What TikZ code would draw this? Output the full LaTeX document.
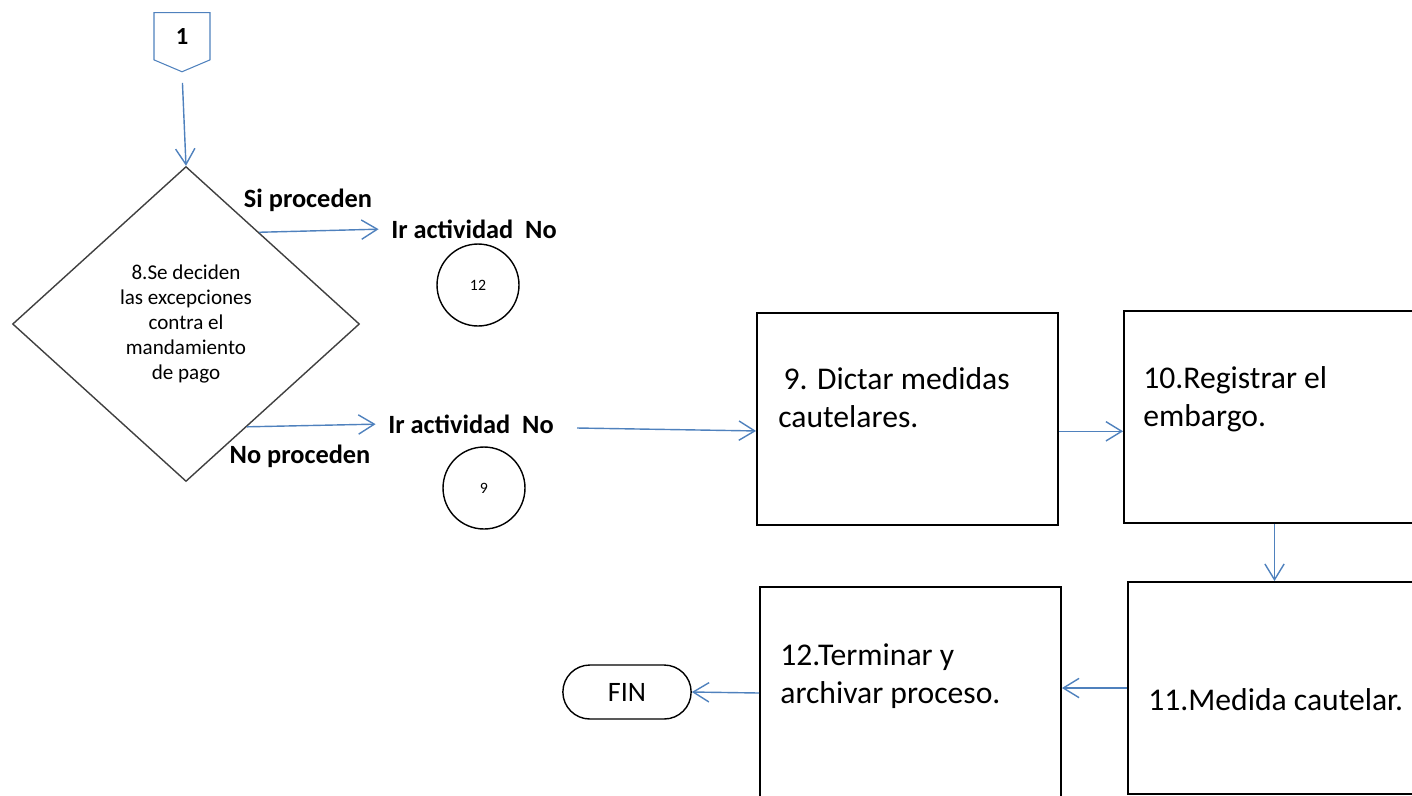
\documentclass[tikz,border=0pt]{standalone}
\usepackage{fontspec}
\setmainfont{Carlito}
\usetikzlibrary{shapes,arrows.meta,calc,positioning}
\definecolor{lineblue}{RGB}{79,129,189}

\begin{document}
\begin{tikzpicture}[x=0.02cm,y=-0.02cm,
	box/.style={rectangle,draw,line width=1.1pt,minimum width=6.02cm,minimum height=4.24cm},
	boxtext/.style={anchor=north west,align=left,inner sep=0pt,font=\fontsize{18}{22}\selectfont},
	arr/.style={draw=lineblue,line width=0.8pt,-{Straight Barb[length=9pt,width=11pt]}},
	goto/.style={circle,draw,line width=0.8pt,minimum size=1.64cm,inner sep=0pt,font=\fontsize{9}{10}\selectfont},
	lbl/.style={font=\bfseries\fontsize{15}{18}\selectfont,inner sep=3pt}]
	\path[use as bounding box,clip] (0,0) rectangle (1412,795);

	\node[signal,signal to=south,signal pointer angle=134,draw=lineblue,line width=0.6pt,minimum width=1.12cm,minimum height=1.0cm,inner sep=0pt,anchor=north,font=\bfseries\fontsize{14}{16}\selectfont] at (182,12) (c1) {1};
	\node[diamond,draw=black!75,line width=0.8pt,minimum width=6.94cm,minimum height=6.3cm,align=center,font=\fontsize{12}{14.2}\selectfont] at (186,324) (d8) {8.Se deciden\\las excepciones\\contra el\\mandamiento\\de pago};

	\node[lbl] at (308,200) (si) {Si proceden};
	\node[lbl] at (474,229) (ir12) {Ir actividad\ \ No};
	\node[goto] at (478,285) (g12) {12};
	\node[lbl] at (300,456) (no) {No proceden};
	\node[lbl] at (471,424) (ir9) {Ir actividad\ \ No};
	\node[goto] at (484,488) (g9) {9};

	\node[box] at (907.5,419) (b9) {};
	\node[box] at (1274.5,417) (b10) {};
	\node[box] at (1278.5,688) (b11) {};
	\node[box] at (910.5,693) (b12) {};
	\node[boxtext] at (778,367) (t9) {\hspace{3pt}9. Dictar medidas\\cautelares.};
	\node[boxtext] at (1143,366) (t10) {10.Registrar el\\embargo.};
	\node[boxtext] at (1148,688) (t11) {11.Medida cautelar.};
	\node[boxtext] at (780,643) (t12) {12.Terminar y\\archivar proceso.};
	\node[rounded rectangle,draw,line width=0.8pt,minimum width=2.8cm,minimum height=1.08cm,font=\fontsize{16}{18}\selectfont] at (627,692) (fin) {FIN};

	\coordinate (c9) at (577,428);
	\draw[arr,shorten <=6pt] (c1.south) -- (d8.north);
	\draw[arr,shorten >=4pt] ($(d8.north)!0.42!(d8.east)$) -- (ir12.west);
	\draw[arr,shorten >=4pt] ($(d8.east)!0.65!(d8.south)$) -- (ir9.west);
	\draw[arr] (c9) -- ([yshift=-6.8pt]b9.west);
	\draw[arr] ([yshift=-7pt]b9.east) -- ([yshift=-7pt]b9.east -| b10.west);
	\draw[arr] (b10.south) -- (b10.south |- b11.north);
	\draw[arr] (b11.west) -- (b11.west -| b12.east);
	\draw[arr] (b12.west) -- (fin.east);
\end{tikzpicture}
\end{document}
